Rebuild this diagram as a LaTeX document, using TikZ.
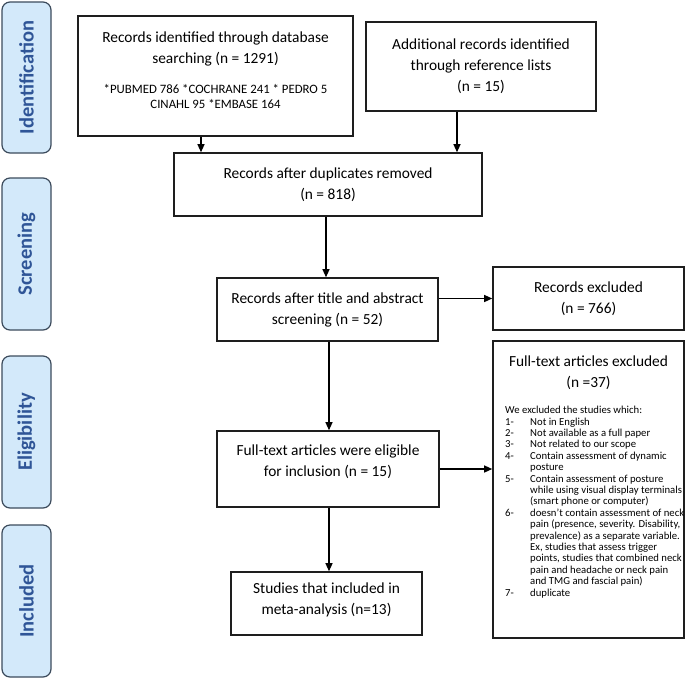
\documentclass[tikz,border=0pt]{standalone}
\usepackage{fontspec}
\setmainfont{Carlito}
\usetikzlibrary{arrows.meta,calc}
\definecolor{sidefill}{HTML}{D3E9FA}
\definecolor{sideline}{HTML}{3C4B5C}
\definecolor{sidetext}{HTML}{2F5597}
\definecolor{boxline}{HTML}{1E1E1E}
\newcommand{\mfont}{\fontsize{15.4}{21}\selectfont}
\newcommand{\sfontA}{\fontsize{12.8}{15.5}\selectfont}
\newcommand{\lfont}{\fontsize{10.7}{11.4}\selectfont}
\newcommand{\sidefont}{\fontsize{20.5}{22}\selectfont\bfseries}
\newcommand{\nr}[1]{\makebox[25pt][l]{#1}}
\newcommand{\ind}{\hspace*{25pt}}
\begin{document}
\begin{tikzpicture}[x=1pt,y=-1pt,
  box/.style={draw=boxline, line width=1.6pt, inner sep=0pt, align=center, font=\mfont, text=black},
  txt/.style={inner sep=0pt, align=center, font=\mfont, text=black},
  side/.style={draw=sideline, line width=1.2pt, fill=sidefill, rounded corners=8pt, rotate=90,
    inner sep=0pt, font=\sidefont, text=sidetext, minimum height=49pt},
  arr/.style={draw=black, line width=1.2pt, -{Triangle[length=8pt,width=7pt]}}]
\useasboundingbox (0,0) rectangle (685,678);
% phase labels
\node[side, minimum width=151pt] (sI) at (26.5,77.5) {Identification};
\node[side, minimum width=152pt] (sS) at (26.5,254) {Screening};
\node[side, minimum width=152pt] (sE) at (26.5,432) {Eligibility};
\node[side, minimum width=152pt] (sN) at (26.5,601) {Included};
% boxes
\node[box, minimum width=275pt, minimum height=120pt] (A) at (215.5,76) {};
\node[txt] (At1) at (215.5,49) {Records identified through database\\searching (n = 1291)};
\node[txt, font=\sfontA] (At2) at (215.5,96.5) {*PUBMED 786 *COCHRANE 241 * PEDRO 5\\CINAHL 95 *EMBASE 164};
\node[box, minimum width=230pt, minimum height=89pt] (B) at (481,66.5) {Additional records identified\\through reference lists\\(n = 15)};
\node[box, minimum width=308pt, minimum height=63pt] (C) at (328,184.5) {Records after duplicates removed\\(n = 818)};
\node[box, minimum width=221pt, minimum height=63pt] (D) at (327.5,309.5) {Records after title and abstract\\screening (n = 52)};
\node[box, minimum width=191pt, minimum height=63pt] (E) at (588.5,298.5) {Records excluded\\(n = 766)};
\node[box, minimum width=222pt, minimum height=76pt] (G) at (328,469) {};
\node[txt] (Gt) at (328,462) {Full-text articles were eligible\\for inclusion (n = 15)};
\node[box, minimum width=191pt, minimum height=63pt] (H) at (326.5,603.5) {};
\node[txt] (Ht) at (326.5,599.5) {Studies that included in\\meta-analysis (n=13)};
\node[box, minimum width=191pt, minimum height=297pt] (F) at (588.5,489.5) {};
\node[txt] (Ft) at (588.5,373) {Full-text articles excluded\\(n =37)};
\node[txt, font=\lfont, align=left, anchor=west] (Fl) at (505,502) {We excluded the studies which:\\
\nr{1-}Not in English\\
\nr{2-}Not available as a full paper\\
\nr{3-}Not related to our scope\\
\nr{4-}Contain assessment of dynamic\\
\ind posture\\
\nr{5-}Contain assessment of posture\\
\ind while using visual display terminals\\
\ind (smart phone or computer)\\
\nr{6-}doesn’t contain assessment of neck\\
\ind pain (presence, severity. Disability,\\
\ind prevalence) as a separate variable.\\
\ind Ex, studies that assess trigger\\
\ind points, studies that combined neck\\
\ind pain and headache or neck pain\\
\ind and TMG and fascial pain)\\
\nr{7-}duplicate};
% helper x positions
\coordinate (xa) at (201,0);
\coordinate (xb) at (457,0);
\coordinate (xc) at (326,0);
\coordinate (xd) at (329,0);
% connectors
\draw[arr] (A.south -| xa) -- (C.north -| xa);
\draw[arr] (B.south -| xb) -- (C.north -| xb);
\draw[arr] (C.south -| xc) -- (D.north -| xc);
\draw[arr] (D.south -| xd) -- (G.north -| xd);
\draw[arr] (G.south -| xd) -- (H.north -| xd);
\draw[arr] (D.east |- E.west) -- (E.west);
\draw[arr] (G.east) -- (G.east -| F.west);
\end{tikzpicture}
\end{document}
